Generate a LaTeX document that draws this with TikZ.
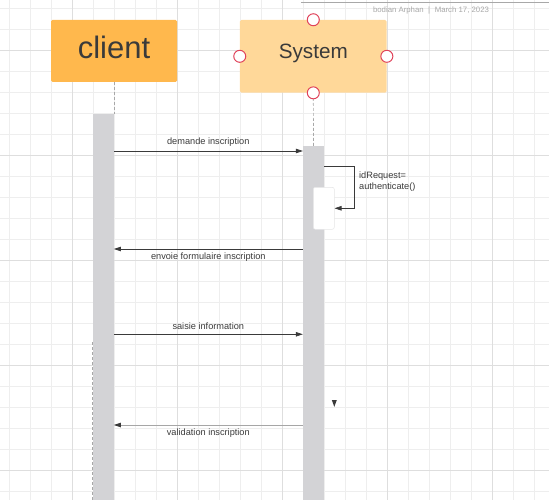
\documentclass[tikz,border=0pt]{standalone}
\usepackage{fontspec}
\setmainfont{Liberation Sans}
\usetikzlibrary{arrows.meta,positioning,calc}
\definecolor{cClient}{HTML}{FFB84D}
\definecolor{cSystem}{HTML}{FFD899}
\definecolor{cInk}{HTML}{3A3A3A}
\definecolor{cBar}{HTML}{D3D3D6}
\definecolor{cGrid}{HTML}{EEEEEE}
\definecolor{cMajor}{HTML}{DEDEDE}
\definecolor{cHandle}{HTML}{E0435A}
\definecolor{cMeta}{HTML}{A8A8A8}
\tikzset{
  actor/.style={fill=#1,rounded corners=1.5pt,inner sep=0pt,text=cInk},
  bar/.style={fill=cBar,draw=none,minimum width=21pt,inner sep=0pt,anchor=north},
  life/.style={dash pattern=on 3pt off 2pt,draw=cMeta,line width=0.7pt},
  msg/.style={-{Triangle[length=7pt,width=4.5pt,color=cInk]},line width=0.7pt,draw=cInk},
  mlbl/.style={font=\fontsize{9.2}{11}\selectfont,text=cInk,inner sep=1pt},
  handle/.style={circle,draw=cHandle,fill=white,line width=1pt,minimum size=12pt,inner sep=0pt},
}

\begin{document}
\begin{tikzpicture}[x=1pt,y=-1pt]
  \useasboundingbox (0,0) rectangle (549,500);
  % grid
  \foreach \i in {0,...,25}{\draw[cGrid,line width=0.8pt] (9.3+21*\i,0) -- ++(0,500);}
  \foreach \i in {0,...,23}{\draw[cGrid,line width=0.8pt] (0,8.3+21*\i) -- ++(549,0);}
  \foreach \i in {3,8,...,23}{\draw[cMajor,line width=0.8pt] (9.3+21*\i,0) -- ++(0,500);}
  \foreach \i in {2,7,...,22}{\draw[cMajor,line width=0.8pt] (0,8.3+21*\i) -- ++(549,0);}
  % header
  \draw[cMeta,line width=0.8pt] (301,2.3) -- (549,2.3);
  \node[font=\fontsize{7.8}{9}\selectfont,text=cMeta,inner sep=0pt] (meta) at (431,11) {bodian Arphan\hspace{4.5pt}|\hspace{4.5pt}March 17, 2023};
  % actors
  \node[actor=cClient,minimum width=126pt,minimum height=62pt] (client) at (114,51) {};
  \node[font=\fontsize{31}{31}\selectfont,text=cInk,inner sep=0pt] (clientlbl) at ([yshift=4pt]client.center) {client};
  \node[actor=cSystem,minimum width=146.7pt,minimum height=72.7pt] (system) at (313.3,56.3) {};
  \node[font=\fontsize{20.7}{21}\selectfont,text=cInk,inner sep=0pt] (systemlbl) at ([yshift=2.5pt]system.center) {System};
  % activation bars
  \node[bar,minimum height=386pt,minimum width=20.6pt] (cbar) at (103.3,114) {};
  \node[bar,minimum height=354pt] (sbar) at (313.5,146) {};
  \node[fill=white,draw=cBar!60,line width=0.5pt,rounded corners=2pt,minimum width=21pt,minimum height=42pt,inner sep=0pt] (inner) at (323.8,208.3) {};
  % lifelines
  \draw[life] (client.south) -- (client.south |- cbar.north);
  \draw[life] (cbar.north west |- 0,342) -- (cbar.south west);
  \draw[life] (system.south) -- (sbar.north);
  \foreach \a in {north,west,east,south}{\node[handle] (h\a) at (system.\a) {};}
  % messages
  \draw[msg] (cbar.east |- 0,151) -- (sbar.west |- 0,151) node[midway,above=3pt,mlbl] (m1) {demande inscription};
  \draw[msg] (sbar.west |- 0,249) -- (cbar.east |- 0,249) node[midway,below=2pt,mlbl] (m2) {envoie formulaire inscription};
  \draw[msg] (cbar.east |- 0,334.3) -- (sbar.west |- 0,334.3) node[midway,above=3pt,mlbl] (m3) {saisie information};
  \draw[msg,draw=cInk!45] (sbar.west |- 0,425) -- (cbar.east |- 0,425) node[midway,below=2pt,mlbl] (m4) {validation inscription};
  % self call
  \coordinate (turn) at (354.3,166);
  \draw[msg] (sbar.east |- turn) -- (turn) |- (inner.east);
  \node[mlbl,anchor=north west,align=left] (self) at (358,170.5) {idRequest=\\authenticate()};
  \fill[cInk] (331.8,400) -- (336.8,400) -- (334.3,406.8) -- cycle;
\end{tikzpicture}
\end{document}
